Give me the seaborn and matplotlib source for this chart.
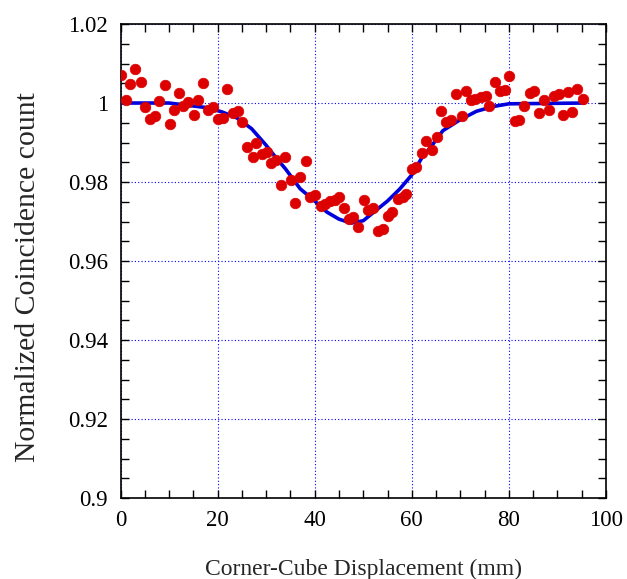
"""plot.py - normalized coincidence count vs corner-cube displacement"""

import numpy as np
import pandas as pd
import matplotlib
matplotlib.use('Agg')
import matplotlib.pyplot as plt
from matplotlib.ticker import MultipleLocator, FuncFormatter
import seaborn as sns

# measured points
disp_mm = [0.0, 1.1, 2.0, 3.0, 4.2, 5.0, 6.1, 7.2, 8.0, 9.1,
           10.2, 11.0, 12.1, 12.9, 14.0, 15.1, 15.9, 17.0, 18.1, 19.0,
           20.1, 21.2, 22.0, 23.1, 24.2, 25.0, 26.1, 27.2, 28.0, 29.1,
           30.2, 31.0, 32.1, 33.0, 33.9, 35.1, 36.0, 37.0, 38.2, 39.0,
           40.0, 41.3, 42.1, 43.1, 44.1, 45.0, 46.1, 47.1, 47.8, 49.0,
           50.2, 51.0, 52.0, 53.0, 54.0, 55.1, 55.9, 57.1, 58.1, 58.9,
           60.0, 60.9, 62.1, 63.0, 64.2, 65.1, 66.1, 67.1, 68.0, 69.2,
           70.3, 71.1, 72.2, 73.1, 74.2, 75.2, 76.0, 77.1, 78.2, 79.1,
           80.1, 81.2, 82.1, 83.2, 84.3, 85.1, 86.2, 87.3, 88.2, 89.2,
           90.3, 91.1, 92.2, 93.0, 94.1, 95.2]
counts = [1.0072, 1.0007, 1.0048, 1.0085, 1.0054, 0.9990, 0.9960, 0.9966, 1.0004, 1.0045,
          0.9946, 0.9983, 1.0025, 0.9993, 1.0003, 0.9970, 1.0008, 1.0050, 0.9983, 0.9990,
          0.9960, 0.9963, 1.0035, 0.9975, 0.9981, 0.9951, 0.9889, 0.9863, 0.9900, 0.9872,
          0.9875, 0.9848, 0.9856, 0.9793, 0.9863, 0.9804, 0.9747, 0.9813, 0.9852, 0.9761,
          0.9767, 0.9740, 0.9744, 0.9752, 0.9755, 0.9761, 0.9733, 0.9706, 0.9711, 0.9686,
          0.9755, 0.9728, 0.9733, 0.9675, 0.9682, 0.9715, 0.9723, 0.9758, 0.9762, 0.9769,
          0.9834, 0.9838, 0.9873, 0.9905, 0.9882, 0.9915, 0.9981, 0.9953, 0.9958, 1.0024,
          0.9968, 1.0030, 1.0007, 1.0010, 1.0014, 1.0017, 0.9993, 1.0054, 1.0031, 1.0034,
          1.0069, 0.9955, 0.9958, 0.9993, 1.0025, 1.0030, 0.9976, 1.0008, 0.9983, 1.0017,
          1.0022, 0.9970, 1.0029, 0.9978, 1.0035, 1.0010]

# fitted curve
fit_mm = [0, 10, 14, 18, 21, 24, 27, 30, 32, 34, 37, 40, 42.5, 45, 47.5,
          50, 52, 55, 57.5, 60, 62, 64, 66.4, 70, 73.3, 76.7, 80, 95.5]
fit_val = [1.0, 1.0, 0.9994, 0.9988, 0.9977, 0.9962, 0.9935, 0.9893, 0.9862, 0.9833,
           0.9783, 0.9752, 0.9724, 0.9706, 0.9696, 0.9702, 0.9722, 0.9752, 0.9782, 0.9818,
           0.9860, 0.9890, 0.9930, 0.9958, 0.9979, 0.9991, 0.9998, 1.0]

sns.set_theme(style='ticks')
plt.rcParams['font.family'] = ['Liberation Serif', 'DejaVu Serif']

pts = pd.DataFrame({'x': disp_mm, 'y': counts})
fit = pd.DataFrame({'x': fit_mm, 'y': fit_val})

fig = plt.figure(figsize=(6.27, 5.79), dpi=100)
ax = fig.add_axes([0.1922, 0.1399, 0.7743, 0.8186])

sns.lineplot(data=fit, x='x', y='y', ax=ax, color='#0000dd', linewidth=2.6,
             zorder=3, sort=False)
sns.scatterplot(data=pts, x='x', y='y', ax=ax, color='#dd0000', edgecolor='#dd0000',
                s=58, linewidth=0.5, zorder=4)

ax.set_xlim(0, 100)
ax.set_ylim(0.9, 1.02)
ax.xaxis.set_major_locator(MultipleLocator(20))
ax.xaxis.set_minor_locator(MultipleLocator(5))
ax.yaxis.set_major_locator(MultipleLocator(0.02))
ax.yaxis.set_minor_locator(MultipleLocator(0.005))
ax.yaxis.set_major_formatter(FuncFormatter(lambda v, _: f'{v:g}'))

ax.grid(True, which='major', color='#0000ff', linestyle=(0, (1, 2)), linewidth=0.8)
ax.tick_params(which='both', direction='in', top=True, right=True,
               colors='black', labelsize=16.5, width=1.0)
ax.tick_params(which='major', length=6, pad=9)
ax.tick_params(which='minor', length=6)
for sp in ax.spines.values():
    sp.set_color('black')
    sp.set_linewidth(1.2)

ax.set_xlabel('Corner-Cube Displacement (mm)', fontsize=17, labelpad=20)
ax.set_ylabel('Normalized Coincidence count', fontsize=21.4, labelpad=19.5)
ax.yaxis.label.set_y(0.467)

fig.savefig('out.png', dpi=100)
plt.close(fig)
